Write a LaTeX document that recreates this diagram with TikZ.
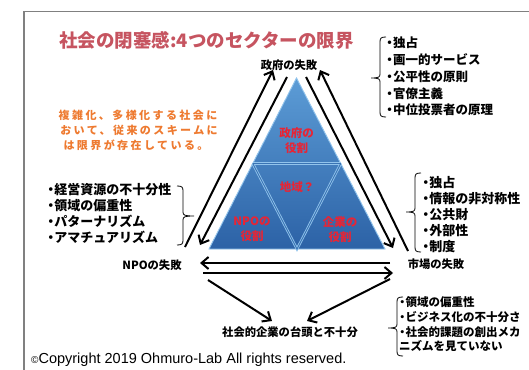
\documentclass[tikz,border=0pt]{standalone}
\usepackage{fontspec}
\setmainfont{Liberation Sans}
\newfontfamily\jp{Noto Sans CJK JP}
\newfontfamily\jpsp[LetterSpace=22]{Noto Sans CJK JP}
\usetikzlibrary{arrows.meta}
\definecolor{titlered}{RGB}{198,84,96}
\definecolor{orangetxt}{RGB}{238,122,48}
\definecolor{rolered}{RGB}{232,36,52}
\definecolor{framegray}{RGB}{128,128,128}
\definecolor{tritop}{RGB}{92,156,214}
\definecolor{tribot}{RGB}{44,98,166}
\definecolor{trilight}{RGB}{146,196,236}
\newcommand{\bul}{\makebox[0.55em][c]{・}}
% brace opening to the right, nub pointing left
\newcommand{\mybraceL}[4]{%
  \draw[brk] ({#1+6},#2) .. controls ({#1+1},#2) and (#1,{#2+1}) .. (#1,{#2+5})
    -- (#1,{#3-4}) .. controls (#1,{#3-1}) and ({#1-1},#3) .. ({#1-9},#3)
    .. controls ({#1-1},#3) and (#1,{#3+1}) .. (#1,{#3+4})
    -- (#1,{#4-5}) .. controls (#1,{#4-1}) and ({#1+1},#4) .. ({#1+6},#4);}
% brace opening to the left, nub pointing right
\newcommand{\mybraceR}[4]{%
  \draw[brk] ({#1-6},#2) .. controls ({#1-1},#2) and (#1,{#2+1}) .. (#1,{#2+5})
    -- (#1,{#3-4}) .. controls (#1,{#3-1}) and ({#1+1},#3) .. ({#1+11},#3)
    .. controls ({#1+1},#3) and (#1,{#3+1}) .. (#1,{#3+4})
    -- (#1,{#4-5}) .. controls (#1,{#4-1}) and ({#1-1},#4) .. ({#1-6},#4);}
\begin{document}
\begin{tikzpicture}[x=1pt,y=-1pt,
  arr/.style={line width=2pt,-{Straight Barb[length=7pt,width=12pt]}},
  brk/.style={line width=0.8pt,black},
  lbl/.style={font=\jp\bfseries\fontsize{11.3}{13}\selectfont,inner sep=0pt},
  lstA/.style={font=\jp\bfseries\fontsize{12.5}{14}\selectfont,inner sep=0pt,anchor=west},
  lstC/.style={font=\jp\bfseries\fontsize{11.5}{14}\selectfont,inner sep=0pt,anchor=west},
  lstB/.style={font=\jp\bfseries\fontsize{13}{14}\selectfont,inner sep=0pt,anchor=west},
  role/.style={font=\jp\bfseries\fontsize{11.5}{15}\selectfont,text=rolered,align=center,inner sep=0pt},
  orng/.style={font=\jpsp\bfseries\fontsize{11}{13}\selectfont,text=orangetxt,inner sep=0pt}]
\useasboundingbox (0,0) rectangle (529,369);
\fill[white] (0,0) rectangle (529,369);
% frame
\draw[framegray,line width=1.5pt] (24,370) -- (24,11.7) -- (530,11.7);
% title
\node[font=\jp\bfseries\fontsize{18.5}{20}\selectfont,text=titlered,inner sep=0pt] (title) at (206.5,40) {社会の閉塞感:4つのセクターの限界};
% triangle
\coordinate (Tap) at (296.5,78);
\coordinate (Tbl) at (209,249);
\coordinate (Tbr) at (385,249);
\coordinate (Ml) at (252.75,163.5);
\coordinate (Mr) at (340.75,163.5);
\coordinate (Mb) at (297,249);
\shade[top color=tritop,bottom color=tribot] (Tap) -- (Tbl) -- (Tbr) -- cycle;
\draw[trilight,line width=0.9pt] (Tap) -- (Tbl) -- (Tbr) -- cycle;
\draw[trilight,line width=2.6pt] (Ml) -- (Mr) (Ml) -- (Mb) -- (Mr);
\draw[tribot!70!tritop,line width=0.9pt] (Ml) -- (Mr) (Ml) -- (Mb) -- (Mr);
% roles
\node[role] (rgov) at (296.5,140.5) {政府の\\役割};
\node[role] (rreg) at (297,187) {地域？};
\node[role] (rnpo) at (252,229.5) {NPOの\\役割};
\node[role] (rcom) at (340,229.5) {企業の\\役割};
% labels
\node[lbl] (gov) at (289,65) {政府の失敗};
\node[lbl] (npo) at (152,265) {NPOの失敗};
\node[lbl] (mkt) at (436,264) {市場の失敗};
\node[lbl] (soc) at (290,332) {社会的企業の台頭と不十分};
% arrows
\coordinate (loA) at (185,247); \coordinate (loB) at (273,70);
\coordinate (liA) at (287,77);  \coordinate (liB) at (200,245);
\coordinate (riA) at (306,77);  \coordinate (riB) at (393,248);
\coordinate (roA) at (408,251); \coordinate (roB) at (320,70);
\coordinate (bhA) at (390,263); \coordinate (bhB) at (200,263);
\coordinate (blA) at (203,273); \coordinate (blB) at (393,273);
\coordinate (dlA) at (208,280); \coordinate (dlB) at (272,321);
\coordinate (drA) at (390,279); \coordinate (drB) at (307,321);
\draw[arr] (loA) -- (loB);
\draw[arr] (liA) -- (liB);
\draw[arr] (riA) -- (riB);
\draw[arr] (roA) -- (roB);
\draw[arr] (bhA) -- (bhB);
\draw[arr] (blA) -- (blB);
\draw[arr] (dlA) -- (dlB);
\draw[arr] (drA) -- (drB);
% orange note
\node[orng] (o1) at (138,115) {複雑化、多様化する社会に};
\node[orng] (o2) at (139,130) {おいて、従来のスキームに};
\node[orng] (o3) at (136,145) {は限界が存在している。};
% government failure list
\foreach \t [count=\i] in {独占,画一的サービス,公平性の原則,官僚主義,中位投票者の原理}
  \node[lstA] (g\i) at (386,{43+16.75*(\i-1)}) {\bul\t};
\mybraceL{380}{37}{78}{117}
% NPO failure list
\foreach \t [count=\i] in {経営資源の不十分性,領域の偏重性,パターナリズム,アマチュアリズム}
  \node[lstB] (n\i) at (47,{190+15.7*(\i-1)}) {\bul\t};
\mybraceR{183}{186}{216}{245}
% market failure list
\foreach \t [count=\i] in {独占,情報の非対称性,公共財,外部性,制度}
  \node[lstB] (m\i) at (422,{183+16*(\i-1)}) {\bul\t};
\mybraceL{415}{173}{212}{252}
% social enterprise list
\node[lstC] (s1) at (399,302) {\bul 領域の偏重性};
\node[lstC] (s2) at (399,317) {\bul ビジネス化の不十分さ};
\node[lstC] (s3) at (399,332) {\bul 社会的課題の創出メカ};
\node[lstC] (s4) at (399,346) {ニズムを見ていない};
\mybraceL{397}{297}{328}{356}
% copyright
\node[font=\fontsize{14.5}{16}\selectfont,inner sep=0pt,anchor=west] (copy) at (31,360) {{\fontsize{10}{10}\selectfont ©}Copyright 2019 Ohmuro-Lab All rights reserved.};
\end{tikzpicture}
\end{document}
